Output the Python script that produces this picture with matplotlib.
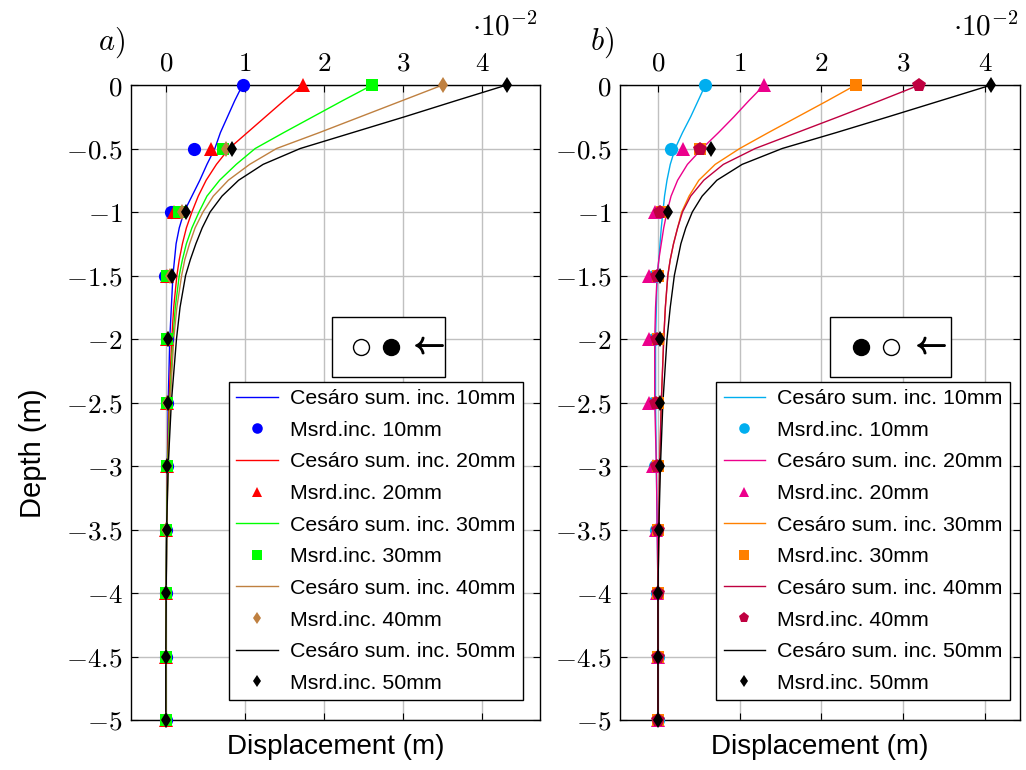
import matplotlib
matplotlib.use("Agg")
import matplotlib.pyplot as plt
import matplotlib.patheffects as pe
from matplotlib.lines import Line2D
from matplotlib.patches import Rectangle
from matplotlib.ticker import FuncFormatter, FixedLocator

plt.rcParams['mathtext.fontset'] = 'cm'
plt.rcParams['font.family'] = ['Liberation Sans', 'DejaVu Sans']

# ---------------- data ----------------
depth_meas = [0, -0.5, -1, -1.5, -2, -2.5, -3, -3.5, -4, -4.5, -5]
depth_sim = [0, -0.125, -0.25, -0.375, -0.5, -0.625, -0.75, -0.875, -1, -1.125,
             -1.25, -1.375, -1.5, -1.75, -2, -2.5, -3, -3.5, -4, -4.5, -5]

labels_mm = ["10mm", "20mm", "30mm", "40mm", "50mm"]

# panel a) displacements in units of 1e-2 m
a_sim_10 = [0.97, 0.87, 0.78, 0.69, 0.62, 0.52, 0.43, 0.33, 0.23, 0.17, 0.13, 0.11, 0.09, 0.07, 0.05, 0.03, 0.02, 0.01, 0.005, 0.0, 0.0]
a_sim_20 = [1.73, 1.49, 1.26, 1.03, 0.80, 0.64, 0.51, 0.41, 0.33, 0.26, 0.21, 0.17, 0.14, 0.10, 0.075, 0.04, 0.02, 0.01, 0.005, 0.0, 0.0]
a_sim_30 = [2.61, 2.23, 1.86, 1.49, 1.13, 0.89, 0.68, 0.52, 0.42, 0.33, 0.26, 0.21, 0.17, 0.12, 0.09, 0.05, 0.025, 0.01, 0.005, 0.0, 0.0]
a_sim_40 = [3.50, 2.98, 2.46, 1.94, 1.40, 1.06, 0.79, 0.60, 0.47, 0.37, 0.30, 0.24, 0.20, 0.14, 0.10, 0.055, 0.03, 0.012, 0.005, 0.0, 0.0]
a_sim_50 = [4.31, 3.66, 3.02, 2.36, 1.70, 1.23, 0.92, 0.71, 0.56, 0.46, 0.38, 0.31, 0.25, 0.18, 0.135, 0.07, 0.03, 0.01, 0.005, 0.0, 0.0]

a_meas_10 = [0.97, 0.36, 0.07, -0.01, 0.02, 0.02, 0.01, 0.0, 0.0, 0.0, 0.0]
a_meas_20 = [1.73, 0.57, 0.10, 0.01, 0.02, 0.02, 0.02, 0.0, 0.0, 0.0, 0.0]
a_meas_30 = [2.61, 0.72, 0.17, 0.02, 0.02, 0.02, 0.02, 0.0, 0.0, 0.0, 0.0]
a_meas_40 = [3.50, 0.76, 0.21, 0.05, 0.03, 0.02, 0.02, 0.0, 0.0, 0.0, 0.0]
a_meas_50 = [4.31, 0.84, 0.26, 0.08, 0.03, 0.03, 0.02, 0.01, 0.0, 0.0, 0.0]

# panel b) displacements in units of 1e-2 m
b_sim_10 = [0.58, 0.49, 0.40, 0.30, 0.21, 0.15, 0.11, 0.08, 0.06, 0.04, 0.025, 0.01, -0.01, -0.02, -0.03, -0.03, -0.02, -0.01, 0.0, 0.0, 0.0]
b_sim_20 = [1.30, 1.11, 0.93, 0.74, 0.54, 0.36, 0.24, 0.16, 0.11, 0.07, 0.04, 0.01, -0.01, -0.03, -0.04, -0.04, -0.02, -0.01, 0.0, 0.0, 0.0]
b_sim_30 = [2.42, 2.07, 1.71, 1.35, 1.00, 0.70, 0.50, 0.38, 0.29, 0.24, 0.19, 0.15, 0.12, 0.09, 0.07, 0.04, 0.02, 0.01, 0.0, 0.0, 0.0]
b_sim_40 = [3.20, 2.71, 2.21, 1.70, 1.19, 0.80, 0.56, 0.40, 0.30, 0.24, 0.19, 0.15, 0.12, 0.09, 0.07, 0.04, 0.02, 0.01, 0.0, 0.0, 0.0]
b_sim_50 = [4.08, 3.45, 2.82, 2.18, 1.52, 1.03, 0.72, 0.54, 0.42, 0.34, 0.28, 0.24, 0.20, 0.15, 0.11, 0.06, 0.03, 0.01, 0.0, 0.0, 0.0]

b_meas_10 = [0.58, 0.16, 0.01, -0.05, -0.05, -0.06, -0.04, -0.02, -0.01, 0.0, 0.0]
b_meas_20 = [1.30, 0.30, -0.04, -0.11, -0.11, -0.11, -0.06, -0.03, -0.01, 0.0, 0.0]
b_meas_30 = [2.42, 0.52, 0.05, 0.0, 0.0, 0.0, 0.0, 0.0, 0.0, 0.0, 0.0]
b_meas_40 = [3.20, 0.52, 0.03, -0.01, -0.01, -0.02, -0.01, 0.0, 0.0, 0.0, 0.0]
b_meas_50 = [4.08, 0.65, 0.12, 0.02, 0.02, 0.02, 0.02, 0.01, 0.0, 0.0, 0.0]

x_ticks = [0, 1, 2, 3, 4]
y_ticks = [0, -0.5, -1, -1.5, -2, -2.5, -3, -3.5, -4, -4.5, -5]

colors_a = ['#0000ff', '#ff0000', '#00ff00', '#bf8040', '#000000']
markers_a = ['o', '^', 's', 'd', 'd']
colors_b = ['#00aeef', '#ec008c', '#ff8000', '#bf0040', '#000000']
markers_b = ['o', '^', 's', 'p', 'd']
marker_sizes = {'o': 9.5, '^': 9.5, 's': 9, 'd': 8, 'p': 10}

# ---------------- figure ----------------
W, H = 1026, 770
fig = plt.figure(figsize=(W / 100, H / 100), dpi=100)


def fx(px):
    return px / W


def fy(py):
    return 1 - py / H


axA = fig.add_axes([fx(131), fy(720), fx(540) - fx(131), fy(85) - fy(720)])
axB = fig.add_axes([fx(620), fy(720), fx(1020) - fx(620), fy(85) - fy(720)])

tick_fs = 19.5
leg_fs = 15.4


def style(ax, xlim):
    ax.set_xlim(*xlim)
    ax.set_ylim(-5, 0)
    ax.xaxis.set_major_locator(FixedLocator(x_ticks))
    ax.yaxis.set_major_locator(FixedLocator(y_ticks))
    ax.xaxis.set_major_formatter(FuncFormatter(lambda v, p: '$%g$' % v))
    ax.yaxis.set_major_formatter(FuncFormatter(lambda v, p: '$%g$' % v))
    ax.tick_params(direction='in', top=True, bottom=True, left=True, right=True,
                   labeltop=True, labelbottom=False, labelsize=tick_fs,
                   length=5, width=0.8, pad=6)
    ax.grid(True, color='#c0c0c0', linewidth=1.0)
    ax.set_axisbelow(True)
    for s in ax.spines.values():
        s.set_linewidth(1.0)
    ax.set_xlabel('Displacement (m)', fontsize=20, labelpad=10)


def draw(ax, sims, meas, colors, markers):
    handles = []
    for i in range(5):
        l, = ax.plot(sims[i], depth_sim, color=colors[i], lw=1.0,
                     label='Cesáro sum. inc. ' + labels_mm[i], zorder=2)
        m, = ax.plot(meas[i], depth_meas, linestyle='none', marker=markers[i],
                     color=colors[i], markersize=marker_sizes[markers[i]],
                     markeredgewidth=0, label='Msrd.inc. ' + labels_mm[i],
                     zorder=3 + i, clip_on=False)
        handles += [l, m]
    return handles


hA = draw(axA, [a_sim_10, a_sim_20, a_sim_30, a_sim_40, a_sim_50],
          [a_meas_10, a_meas_20, a_meas_30, a_meas_40, a_meas_50], colors_a, markers_a)
hB = draw(axB, [b_sim_10, b_sim_20, b_sim_30, b_sim_40, b_sim_50],
          [b_meas_10, b_meas_20, b_meas_30, b_meas_40, b_meas_50], colors_b, markers_b)

style(axA, (-0.44, 4.73))
style(axB, (-0.465, 4.43))
axA.set_ylabel('Depth (m)', fontsize=21)
axA.yaxis.set_label_coords(-0.205, 0.42)

for ax, h, anchor in [(axA, hA, (0.958, 0.031)), (axB, hB, (0.975, 0.031))]:
    leg = ax.legend(handles=h, loc='lower right', bbox_to_anchor=anchor,
                    fontsize=leg_fs, frameon=True, fancybox=False,
                    edgecolor='black', framealpha=1, borderaxespad=0,
                    handlelength=1.95, labelspacing=0.59, markerscale=0.8,
                    borderpad=0.35, handletextpad=0.55)
    leg.get_frame().set_linewidth(1.0)
    leg.set_zorder(20)

# panel titles and scale factors
fig.text(fx(112), fy(43), r'$a)$', fontsize=22, ha='center', va='center')
fig.text(fx(602), fy(43), r'$b)$', fontsize=22, ha='center', va='center')
fig.text(fx(505), fy(27), r'$\cdot 10^{-2}$', fontsize=21, ha='center', va='center')
fig.text(fx(986), fy(27), r'$\cdot 10^{-2}$', fontsize=21, ha='center', va='center')


# direction boxes (annotation)
def direction_box(x0, x1, y0, y1, circles, arrow_x):
    rect = Rectangle((fx(x0), fy(y1)), fx(x1) - fx(x0), fy(y0) - fy(y1),
                     transform=fig.transFigure, facecolor='white',
                     edgecolor='black', linewidth=1.0, zorder=20)
    fig.add_artist(rect)
    yc = fy((y0 + y1) / 2)
    for cx, filled in circles:
        fig.add_artist(Line2D([fx(cx)], [yc], marker='o', markersize=11.5,
                              markerfacecolor='black' if filled else 'white',
                              markeredgecolor='black', markeredgewidth=1.0,
                              transform=fig.transFigure, zorder=21))
    fig.text(fx(arrow_x), yc + 0.002, r'$\leftarrow$', fontsize=22, ha='center',
             va='center', zorder=21,
             path_effects=[pe.withStroke(linewidth=1.2, foreground='black')])


direction_box(332, 445, 317, 377, [(361, False), (391, True)], 427)
direction_box(830, 951, 317, 377, [(861, True), (891, False)], 929)

fig.savefig('out.png', dpi=100)
